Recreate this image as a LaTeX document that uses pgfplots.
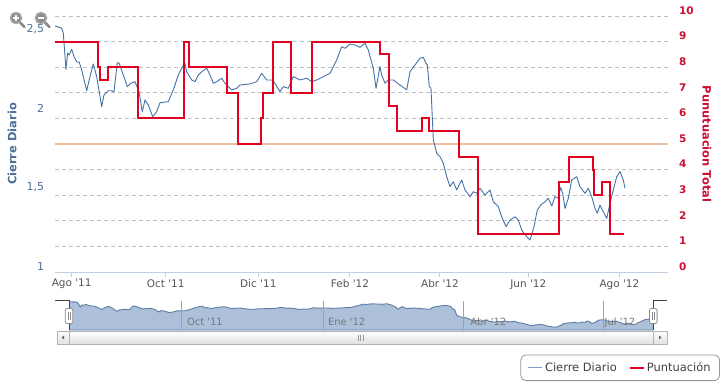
\documentclass[border=0pt]{standalone}
\usepackage{pgfplots}
\pgfplotsset{compat=1.18}
\usepackage{pgfplotstable}
\usepackage{fontspec}
\setmainfont{DejaVu Sans}
\definecolor{serblue}{RGB}{69,114,167}
\definecolor{serred}{RGB}{228,0,32}
\definecolor{axred}{RGB}{200,16,46}
\definecolor{axblue}{RGB}{77,112,152}
\definecolor{gridc}{RGB}{192,192,192}
\definecolor{plotor}{RGB}{240,192,160}
\definecolor{navfill}{RGB}{172,192,218}
\definecolor{navline}{RGB}{95,125,165}
\definecolor{axline}{RGB}{192,208,224}
\definecolor{labc}{RGB}{85,85,85}
\definecolor{navlab}{RGB}{120,120,120}
\definecolor{legc}{RGB}{150,150,150}
\newcommand{\q}{\textquotesingle}

\pgfplotstableread{
d v
-12.33 2.554
-7.87 2.540
-6.80 2.508
-5.00 2.280
-3.87 2.382
-2.80 2.371
-1.20 2.407
0.53 2.356
2.13 2.328
3.87 2.325
5.47 2.276
8.80 2.145
11.00 2.234
13.20 2.314
15.47 2.234
18.80 2.044
20.33 2.118
23.20 2.145
25.47 2.145
27.00 2.139
29.20 2.322
30.53 2.318
33.20 2.244
35.87 2.171
38.13 2.192
41.00 2.202
43.67 2.139
45.87 2.013
47.67 2.087
49.87 2.055
52.80 1.981
55.47 2.013
57.67 2.069
63.20 2.076
66.53 2.150
69.87 2.244
72.13 2.287
74.33 2.318
75.47 2.265
78.80 2.213
81.00 2.202
83.20 2.244
85.47 2.265
88.80 2.287
91.00 2.244
93.20 2.192
95.47 2.202
98.80 2.224
101.00 2.192
103.20 2.171
105.47 2.150
108.80 2.160
111.00 2.181
117.67 2.188
122.13 2.202
125.47 2.255
128.80 2.213
132.13 2.213
134.33 2.192
137.67 2.139
139.87 2.171
143.20 2.160
146.53 2.234
151.00 2.213
155.47 2.224
158.80 2.202
162.13 2.213
166.53 2.234
171.00 2.255
175.47 2.339
178.80 2.423
181.00 2.413
184.33 2.440
187.67 2.434
191.00 2.419
194.33 2.445
196.53 2.402
199.87 2.287
201.67 2.160
204.33 2.297
205.47 2.244
207.67 2.192
209.87 2.213
213.20 2.213
217.67 2.181
222.13 2.150
224.33 2.265
227.67 2.308
231.00 2.350
233.20 2.356
235.00 2.318
235.87 2.308
237.20 2.171
238.33 2.160
239.87 1.834
242.13 1.750
244.33 1.728
246.53 1.687
248.80 1.602
251.00 1.539
253.20 1.570
255.47 1.518
258.80 1.581
261.00 1.518
264.33 1.476
266.53 1.507
268.80 1.497
271.00 1.529
274.33 1.486
277.67 1.518
279.87 1.444
283.20 1.413
285.47 1.349
288.33 1.286
291.00 1.328
294.33 1.349
296.53 1.328
298.80 1.265
302.13 1.223
304.33 1.202
307.00 1.286
309.20 1.392
311.47 1.423
314.33 1.444
316.53 1.466
318.80 1.417
321.00 1.476
323.20 1.466
324.80 1.535
326.13 1.497
327.67 1.402
329.87 1.466
332.13 1.581
335.47 1.602
337.67 1.539
341.00 1.497
343.20 1.529
345.47 1.476
347.67 1.402
349.20 1.371
351.00 1.423
353.20 1.381
355.47 1.339
357.67 1.434
359.87 1.518
362.13 1.602
364.33 1.634
366.53 1.581
367.67 1.529
}\cierre

\pgfplotstableread{
d p
-12.33 9
16.13 8
17.67 7.5
23.00 8
42.80 6
73.67 9
76.67 8
102.13 7
109.47 5
124.80 6
126.13 7
133.20 9
144.80 7
159.20 9
204.33 8.5
210.33 6.5
215.87 5.5
232.53 6
237.20 5.5
257.00 4.5
269.87 1.5
323.67 3.5
330.53 4.5
346.13 4
347.20 3
352.13 3.5
357.67 1.5
367.00 1.5
}\punt

\pgfplotsset{
  mainbox/.style={
    at={(55bp,-272bp)}, anchor=south west,
    scale only axis, width=613bp, height=256bp,
    xmin=-12.33, xmax=396.33,
  },
}

\begin{document}
\begin{tikzpicture}
\path[use as bounding box] (0bp,0bp) rectangle (727bp,-388bp);

% --- grid, plot line and right axis ---
\begin{axis}[
  mainbox,
  ymin=0, ymax=10,
  axis x line=none, axis y line*=right,
  y axis line style={draw=none},
  ytick={0,1,...,10},
  yticklabels={0,1,2,3,4,5,6,7,8,9,10},
  ymajorgrids,
  major grid style={gridc, dash pattern=on 4bp off 3bp, line width=0.7bp},
  extra y ticks={5}, extra y tick labels={},
  extra y tick style={grid=major, major grid style={plotor, solid, line width=2bp}},
  ytick style={draw=none}, major tick length=0pt, ytick align=inside,
  yticklabel style={font=\bfseries\fontsize{10.5}{12}\selectfont, text=axred, anchor=west, xshift=7.5bp, yshift=5.5bp},
  ylabel={Punutuacion Total},
  ylabel style={font=\bfseries\fontsize{11.5}{13}\selectfont, text=axred, at={(axis description cs:1.0636,0.5)}, anchor=center, rotate=180},
]
\end{axis}

% --- left axis, Cierre Diario ---
\begin{axis}[
  mainbox,
  ymin=1, ymax=2.617,
  axis x line*=bottom, axis y line*=left,
  y axis line style={draw=none},
  x axis line style={draw=axline, line width=1bp},
  xtick={-1.2,61.5,123.2,184.3,244.3,303.2,363.9},
  xticklabels={Ago \q11, Oct \q11, Dic \q11, Feb \q12, Abr \q12, Jun \q12, Ago \q12},
  xtick align=outside,
  xtick style={draw=axline, line width=1bp},
  major tick length=5bp,
  xticklabel style={font=\fontsize{10.5}{12}\selectfont, text=labc, yshift=1.2bp},
  ytick={1,1.5,2,2.5}, yticklabels={1,{1,5},2,{2,5}},
  ytick style={draw=none}, ytick align=inside,
  yticklabel style={font=\fontsize{11}{13}\selectfont, text=axblue, anchor=east, xshift=-7.5bp, yshift=5.5bp},
  ylabel={Cierre Diario},
  ylabel style={font=\bfseries\fontsize{11.5}{13}\selectfont, text=axblue, at={(axis description cs:-0.0701,0.5)}, anchor=center},
]
\addplot[serblue, line width=0.9bp, no markers, line join=round] table[x=d,y=v] {\cierre};
\end{axis}

% --- right axis series, Puntuacion ---
\begin{axis}[
  mainbox,
  ymin=0, ymax=10,
  hide axis,
  legend columns=2,
  legend cell align=left,
  legend image code/.code={\draw[#1] (0bp,0bp) -- (14bp,0bp);},
  legend style={at={(axis description cs:1.0848,-0.4258)}, anchor=south east,
    draw=legc, line width=0.8bp, rounded corners=5bp,
    font=\fontsize{11.5}{13}\selectfont, text=black!75,
    inner xsep=7bp, inner ysep=5.5bp,
    /tikz/every even column/.append style={column sep=10bp}},
]
\addlegendimage{serblue!70, line width=1.2bp}
\addlegendentry{Cierre Diario}
\addplot[serred, line width=2bp, const plot, no markers] table[x=d,y=p] {\punt};
\addlegendentry{Puntuación}
\end{axis}

% --- navigator ---
\begin{axis}[
  at={(69bp,-330bp)}, anchor=south west,
  scale only axis, width=584.3bp, height=29.3bp,
  xmin=-12.33, xmax=367.67, ymin=1.059, ymax=2.607,
  axis line style={draw=none},
  ytick=\empty, xtick={61,153,244,335}, xticklabels={},
  major tick length=0pt,
  xmajorgrids, major grid style={navline!70, line width=0.6bp},
  axis on top,
]
\addplot[fill=navfill, draw=navline, line width=0.9bp, no markers] table[x=d,y=v] {\cierre} \closedcycle;
\end{axis}

\begin{scope}[x=1bp, y=-1bp]
  % navigator labels
  \foreach \lx/\lt in {182.3/Oct \q11, 323.3/Ene \q12, 465.7/Abr \q12, 600.0/Jul \q12}{
    \node[anchor=base west, inner sep=0pt, text=navlab, font=\fontsize{10}{12}\selectfont] at (\lx+4.5,325.5) {\lt};
  }
  % navigator outline
  \draw[black!75, line width=0.9bp] (55,300.7) -- (69,300.7) -- (69,330);
  \draw[black!75, line width=0.9bp] (653.3,330) -- (653.3,300.7) -- (667,300.7);
  % scrollbar
  \shade[top color=white, bottom color=black!12] (57,331) rectangle (667,344);
  \draw[black!30, line width=0.8bp] (57,331) rectangle (667,344);
  \draw[black!30, line width=0.8bp] (69,331) -- (69,344);
  \draw[black!30, line width=0.8bp] (653.3,331) -- (653.3,344);
  \fill[black!60] (61.5,337.5) -- (64,335.5) -- (64,339.5) -- cycle;
  \fill[black!60] (661.5,337.5) -- (659,335.5) -- (659,339.5) -- cycle;
  \foreach \gx in {358,360.5,363}{\draw[black!40, line width=0.7bp] (\gx,334.5) -- (\gx,340.5);}
  % handles
  \foreach \hx in {69,653.3}{
    \draw[black!45, fill=white, rounded corners=2bp, line width=0.8bp] (\hx-3.8,308.5) rectangle (\hx+3.8,323.5);
    \draw[black!45, line width=0.7bp] (\hx-1,312) -- (\hx-1,320);
    \draw[black!45, line width=0.7bp] (\hx+1,312) -- (\hx+1,320);
  }
  % zoom icons
  \foreach \cx/\pl in {16/1,41/0}{
    \draw[black!45, line width=2.5bp, line cap=round] (\cx+4,22.5) -- (\cx+8.5,27);
    \draw[black!35, fill=black!45, line width=1.5bp] (\cx,18) circle (5.5);
    \draw[white, line width=1.4bp] (\cx-2.8,18) -- (\cx+2.8,18);
    \ifnum\pl=1 \draw[white, line width=1.4bp] (\cx,15.2) -- (\cx,20.8);\fi
  }
\end{scope}
\end{tikzpicture}
\end{document}
